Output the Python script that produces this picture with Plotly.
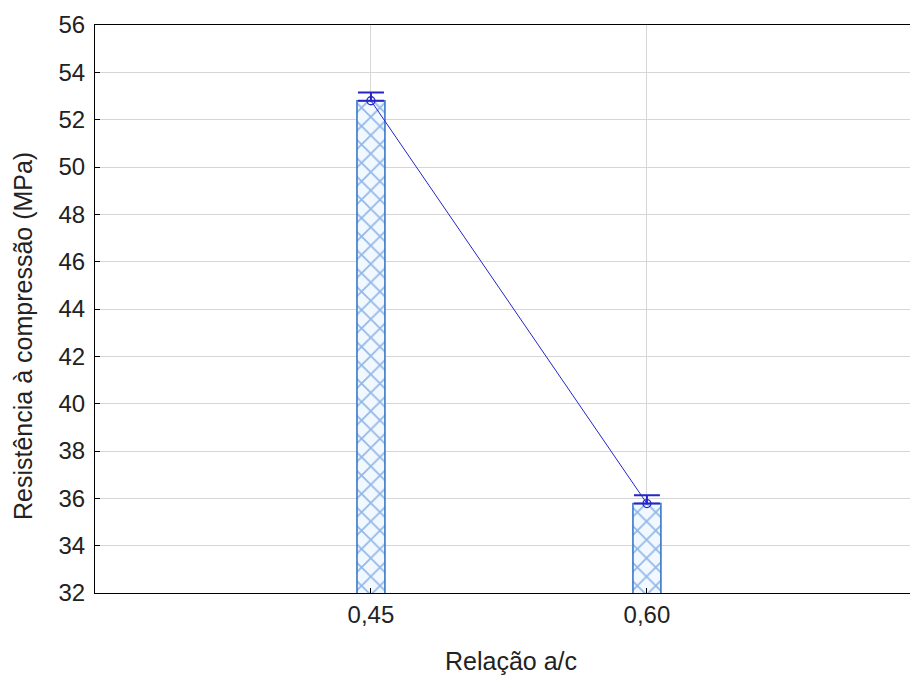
import plotly.graph_objects as go

ratios = [0.45, 0.60]
tick_labels = ["0,45", "0,60"]
means = [52.8, 35.78]
err_up = [0.35, 0.35]
y_title = "Resistência à compressão (MPa)"
x_title = "Relação a/c"

fig = go.Figure()
fig.add_trace(go.Bar(
    x=ratios, y=means, width=0.0152, base=0,
    marker=dict(color="#f2f8ff", line=dict(color="#3a78c8", width=1.6),
                pattern=dict(shape="x", fgcolor="#3277d0", bgcolor="#f2f8ff", size=13, solidity=0.25)),
    showlegend=False, hoverinfo="skip"))
fig.add_trace(go.Scatter(
    x=ratios, y=means, mode="lines+markers",
    line=dict(color="#2525c8", width=1),
    marker=dict(symbol="circle-open-dot", size=8, color="#2525c8", line=dict(width=1.3)),
    error_y=dict(type="data", symmetric=False, array=err_up, arrayminus=[0, 0],
                 color="#2525c8", thickness=2, width=13),
    showlegend=False))

fig.update_layout(
    width=910, height=676,
    margin=dict(l=95, r=0, t=25, b=83),
    plot_bgcolor="white", paper_bgcolor="white",
    font=dict(family="Liberation Sans, Arial, sans-serif", size=24, color="#222"),
    xaxis=dict(range=[0.30, 0.743], tickvals=ratios, ticktext=tick_labels,
               tickfont=dict(size=24),
               showgrid=True, gridcolor="#d6d6d6", gridwidth=1,
               showline=True, linecolor="black", linewidth=1.2, mirror=True,
               ticks="inside", ticklen=5, tickcolor="black", zeroline=False),
    yaxis=dict(range=[32, 56], dtick=2, tickfont=dict(size=24),
               showgrid=True, gridcolor="#d6d6d6", gridwidth=1,
               showline=True, linecolor="black", linewidth=1.2,
               ticks="inside", ticklen=5, tickcolor="black", zeroline=False,
               ticklabelstandoff=4),
    annotations=[
        dict(text=x_title, xref="paper", yref="paper", x=(511 - 95) / 815, y=-(661 - 593) / 568,
             showarrow=False, xanchor="center", yanchor="middle", font=dict(size=25)),
        dict(text=y_title, xref="paper", yref="paper", x=-(95 - 23) / 815, y=(593 - 336) / 568,
             showarrow=False, xanchor="center", yanchor="middle", textangle=-90, font=dict(size=25)),
    ],
)
fig.write_html("out.html", config={"displayModeBar": False},
               post_script="document.body.style.margin='0';document.body.style.overflow='hidden';")
